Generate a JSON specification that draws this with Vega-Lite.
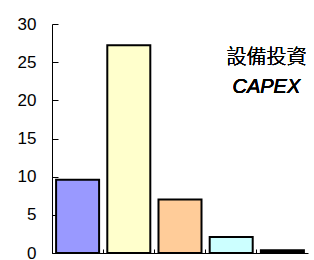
{
  "$schema": "https://vega.github.io/schema/vega-lite/v6.json",
  "width": 256,
  "height": 229,
  "autosize": {"type": "none"},
  "padding": {"left": 52, "top": 24, "right": 6, "bottom": 7},
  "background": "white",
  "config": {
    "view": {"stroke": null},
    "font": "Liberation Sans",
    "axisY": {"title": null, "values": [0, 5, 10, 15, 20, 25, 30], "grid": false, "tickSize": -6, "labelPadding": 22, "labelOverlap": false, "labelFlush": false,
              "domainColor": "black", "tickColor": "black", "labelColor": "black", "labelFontSize": 17, "labelFontWeight": "normal", "labelFont": "Liberation Sans"},
    "axisX": {"title": null, "labels": false, "tickSize": -4, "bandPosition": 0, "domainColor": "black", "tickColor": "black", "domainWidth": 1}
  },
  "data": {"values": [
    {"cat": "A", "value": 9.6},
    {"cat": "B", "value": 27.2},
    {"cat": "C", "value": 7.0},
    {"cat": "D", "value": 2.1},
    {"cat": "E", "value": 0.35}
  ]},
  "layer": [
    {
      "mark": {"type": "bar", "stroke": "black", "strokeWidth": 2, "width": {"band": 0.84}},
      "encoding": {
        "x": {"field": "cat", "type": "nominal", "scale": {"paddingInner": 0, "paddingOuter": 0}},
        "y": {"field": "value", "type": "quantitative", "scale": {"domain": [0, 30], "nice": false}},
        "color": {"field": "cat", "type": "nominal", "legend": null,
                  "scale": {"domain": ["A", "B", "C", "D", "E"], "range": ["#9999FF", "#FFFFCC", "#FFCC99", "#CCFFFF", "#000000"]}}
      }
    },
    {
      "mark": {"type": "text", "text": "設備投資", "font": "Noto Sans CJK TC", "fontSize": 20, "fontWeight": 300, "dx": -16, "baseline": "middle", "align": "center", "color": "black"},
      "encoding": {"x": {"datum": "E", "type": "nominal"}, "y": {"datum": 25.5, "type": "quantitative"}}
    },
    {
      "mark": {"type": "text", "text": "CAPEX", "font": "Liberation Sans", "fontStyle": "italic", "fontWeight": "normal", "fontSize": 20, "dx": -16, "baseline": "middle", "align": "center", "color": "black"},
      "encoding": {"x": {"datum": "E", "type": "nominal"}, "y": {"datum": 21.7, "type": "quantitative"}}
    }
  ]
}
